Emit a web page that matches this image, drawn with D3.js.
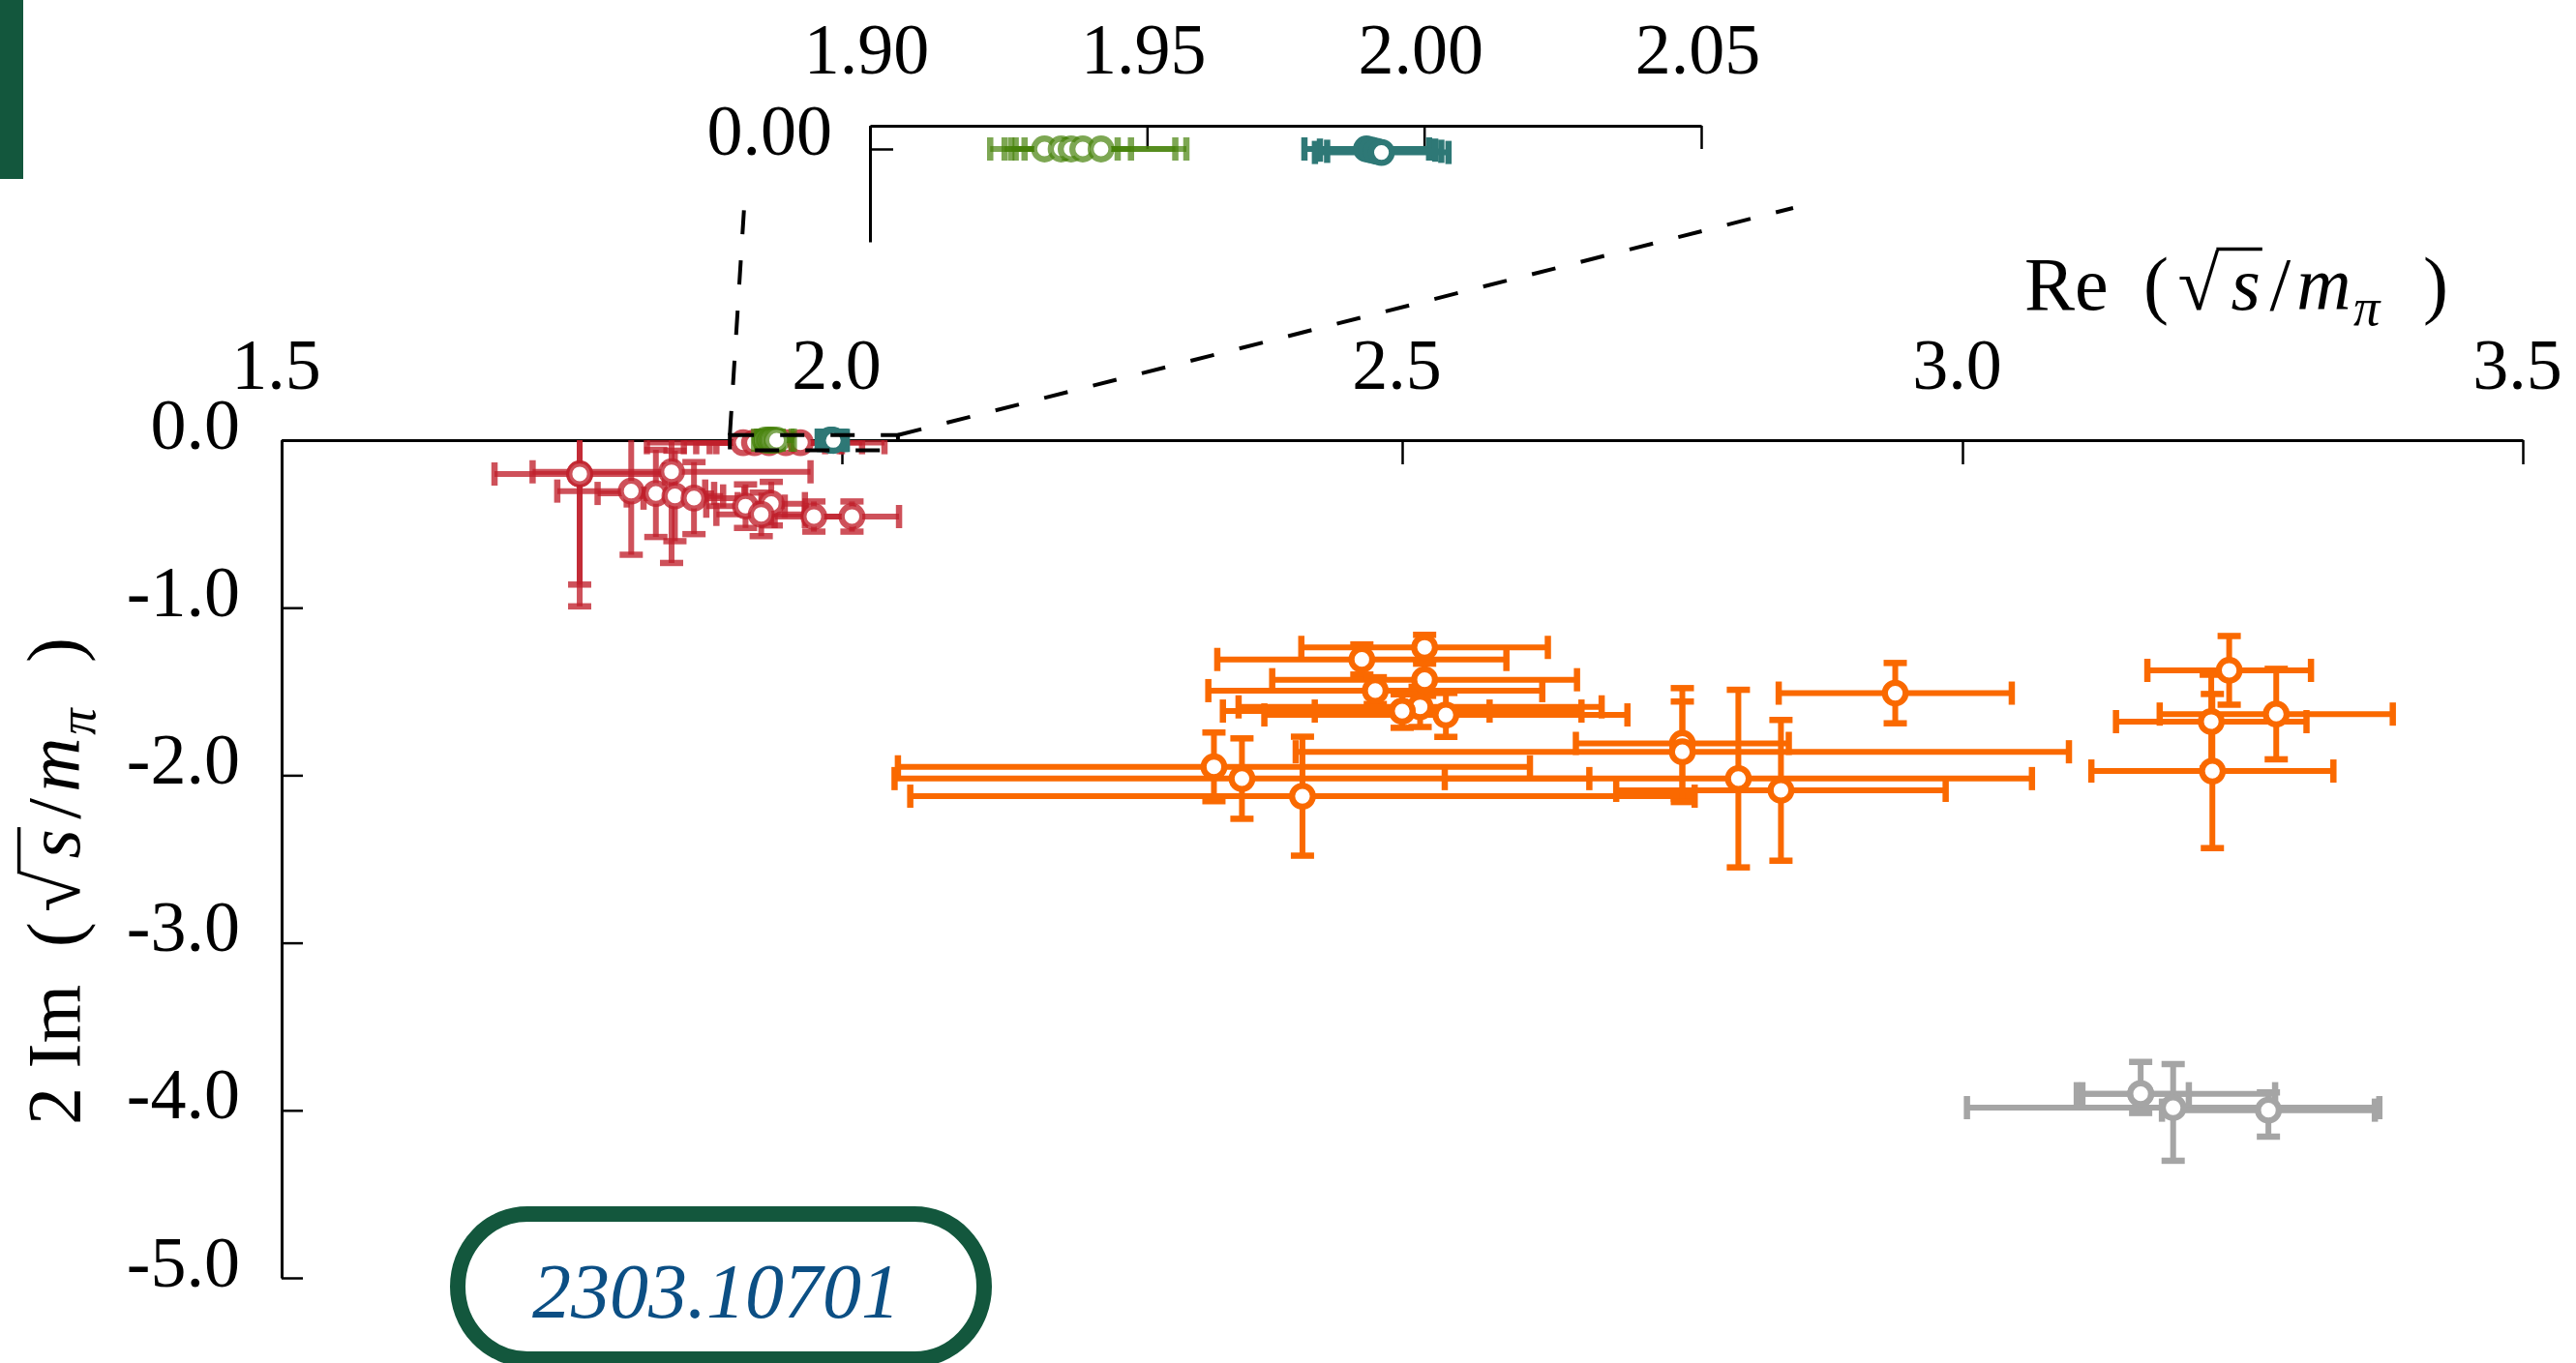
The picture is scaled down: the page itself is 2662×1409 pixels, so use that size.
<!DOCTYPE html>
<html>
<head>
<meta charset="utf-8">
<script src="https://cdn.jsdelivr.net/npm/d3@7"></script>
<style>
  html, body { margin: 0; padding: 0; background: #fff; }
  svg { display: block; font-family: "Liberation Serif", "DejaVu Serif", serif; }
</style>
</head>
<body>
<svg id="chart" width="2662" height="1409"></svg>
<script>
// tick values
const xTicks = [1.5, 2.0, 2.5, 3.0, 3.5];
const yTicks = [0, -1, -2, -3, -4, -5];
const insetXTicks = [1.90, 1.95, 2.00, 2.05];
const insetYTicks = [0];

// errors are symmetric numbers or [minus, plus] pairs
const redRe = [1.766, 1.766, 1.848, 1.812, 1.834, 1.851, 1.868, 1.914, 1.937, 1.928, 1.975, 2.009, 1.912, 1.922, 1.935, 1.950, 1.963];
const redIm = [-0.202, -0.202, -0.189, -0.304, -0.318, -0.333, -0.346, -0.394, -0.379, -0.443, -0.456, -0.456, -0.015, -0.015, -0.015, -0.015, -0.015];
const redReErr = [0.076, 0, 0.124, 0.066, 0.052, 0.043, 0.045, 0.035, 0.030, 0.040, 0.035, 0.042, 0.086, 0.063, 0.065, 0.068, 0.075];
const redImErr = [0.79, 0.66, 0.544, 0.38, 0.26, 0.27, 0.215, 0.13, 0.13, 0.13, 0.09, 0.09, 0, 0, 0, 0, 0];

const orangeRe = [2.520, 2.464, 2.520, 2.476, 2.516, 2.500, 2.500, 2.539, 2.332, 2.357, 2.411, 2.750, 2.750, 2.800, 2.838, 2.940, 3.238, 3.280, 3.222, 3.223];
const orangeIm = [-1.237, -1.309, -1.430, -1.495, -1.592, -1.617, -1.617, -1.640, -1.950, -2.020, -2.125, -1.810, -1.860, -2.020, -2.090, -1.510, -1.374, -1.635, -1.680, -1.975];
const orangeReErr = [0.110, 0.129, 0.136, 0.149, 0.162, 0.160, 0.078, 0.162, 0.282, 0.310, 0.350, 0.095, 0.345, 0.262, 0.147, 0.104, 0.073, 0.104, 0.085, 0.108];
const orangeImErr = [0.075, 0.09, 0.096, 0.08, 0.12, 0.10, 0, 0.131, 0.205, 0.24, 0.355, 0.33, 0.30, 0.53, 0.42, 0.18, 0.205, 0.27, 0.28, 0.46];

const greyRe = [3.159, 3.159, 3.188, 3.273];
const greyIm = [-3.901, -3.901, -3.984, -3.999];
const greyReErr = [[0.057, 0.12], [0.052, 0.043], 0.184, 0.095];
const greyImErr = [[0.115, 0.19], 0, [0.317, 0.26], [0.158, 0.106]];

const greenRe = [1.9315, 1.9345, 1.9363, 1.9384, 1.9417];
const greenIm = [0, 0, 0, 0, 0];
const greenReErr = [0.0036, 0.0102, 0.0108, 0.0167, 0.0154];
const greenImErr = [0, 0, 0, 0, 0];

const tealRe = [1.9896, 1.9905, 1.9914, 1.9923];
const tealIm = [0, -0.0005, -0.001, -0.0015];
const tealReErr = [[0.0112, 0.0113], [0.0093, 0.0115], [0.0089, 0.0117], [0.0120, 0.0121]];
const tealImErr = [0, 0, 0, 0];

const arxivId = "2303.10701";

const series = [
    {re: redRe, im: redIm, reErr: redReErr, imErr: redImErr, color: "rgb(192,32,44)", opacity: 0.78, clip: true},
    {re: orangeRe, im: orangeIm, reErr: orangeReErr, imErr: orangeImErr, color: "#fa6900", opacity: 1},
    {re: greyRe, im: greyIm, reErr: greyReErr, imErr: greyImErr, color: "#a5a5a5", opacity: 1},
    {re: greenRe, im: greenIm, reErr: greenReErr, imErr: greenImErr, color: "rgb(70,130,10)", opacity: 0.7, inset: true},
    {re: tealRe, im: tealIm, reErr: tealReErr, imErr: tealImErr, color: "#2e7876", opacity: 1, inset: true}
];

const darkGreen = "#13573d";
const tickFont = 74;
const labelFont = 78;

const svg = d3.select("#chart");

const xScale = d3.scaleLinear().domain([1.5, 3.5]).range([291, 2607]);
const yScale = d3.scaleLinear().domain([0, -5]).range([455, 1321]);
const insetX = d3.scaleLinear().domain([1.90, 2.05]).range([899, 1758]);
const insetY = d3.scaleLinear().domain([0.01, -0.04]).range([130, 250]);

svg.append("defs").append("clipPath")
    .attr("id", "plot-clip")
    .append("rect")
        .attr("x", xScale.range()[0])
        .attr("y", yScale.range()[0])
        .attr("width", xScale.range()[1] - xScale.range()[0])
        .attr("height", yScale.range()[1] - yScale.range()[0]);

function pair(e) {
    return Array.isArray(e) ? e : [e, e];
}

function drawSeries(parent, s, x, y, useClip) {
    const pts = s.re.map((r, i) => ({x: r, y: s.im[i], ex: pair(s.reErr[i]), ey: pair(s.imErr[i])}));
    const cap = 12;
    const g = parent.append("g");

    const bars = g.append("g")
        .attr("stroke", s.color)
        .attr("stroke-opacity", s.opacity);
    if (useClip) bars.attr("clip-path", "url(#plot-clip)");

    pts.forEach(p => {
        const cx = x(p.x), cy = y(p.y);
        if (p.ex[0] > 0 || p.ex[1] > 0) {
            const xa = x(p.x - p.ex[0]), xb = x(p.x + p.ex[1]);
            bars.append("line")
                .attr("x1", xa).attr("x2", xb)
                .attr("y1", cy).attr("y2", cy)
                .attr("stroke-width", 6);
            [xa, xb].forEach(xc => bars.append("line")
                .attr("x1", xc).attr("x2", xc)
                .attr("y1", cy - cap).attr("y2", cy + cap)
                .attr("stroke-width", 6.5));
        }
        if (p.ey[0] > 0 || p.ey[1] > 0) {
            const ya = y(p.y - p.ey[0]), yb = y(p.y + p.ey[1]);
            bars.append("line")
                .attr("x1", cx).attr("x2", cx)
                .attr("y1", ya).attr("y2", yb)
                .attr("stroke-width", 6);
            [ya, yb].forEach(yc => bars.append("line")
                .attr("x1", cx - cap).attr("x2", cx + cap)
                .attr("y1", yc).attr("y2", yc)
                .attr("stroke-width", 6.5));
        }
    });

    g.append("g").selectAll("circle")
        .data(pts)
        .enter().append("circle")
            .attr("cx", d => x(d.x))
            .attr("cy", d => y(d.y))
            .attr("r", 10.75)
            .attr("fill", "#fff")
            .attr("stroke", s.color)
            .attr("stroke-opacity", s.opacity)
            .attr("stroke-width", 6.3);
}

function styleAxis(g) {
    g.attr("font-family", null).attr("font-size", null);
    g.select(".domain").attr("stroke-width", 3);
    g.selectAll(".tick line").attr("stroke-width", 2.5);
    g.selectAll(".tick text").attr("font-size", tickFont).attr("fill", "#000");
}

// main axes
const xAxis = svg.append("g")
    .attr("transform", `translate(0, ${yScale(0)})`)
    .call(d3.axisTop(xScale)
        .tickValues(xTicks)
        .tickSizeInner(-25)
        .tickSizeOuter(0)
        .tickPadding(53)
        .tickFormat(d3.format(".1f")));
styleAxis(xAxis);
xAxis.selectAll(".tick text").attr("dx", -6);

const yAxis = svg.append("g")
    .attr("transform", `translate(${xScale(1.5)}, 0)`)
    .call(d3.axisLeft(yScale)
        .tickValues(yTicks)
        .tickSizeInner(-22)
        .tickSizeOuter(0)
        .tickPadding(43)
        .tickFormat(d => d.toFixed(1)));
styleAxis(yAxis);
yAxis.selectAll(".tick text").attr("dy", "0.11em");

// inset axes
const insetXAxis = svg.append("g")
    .attr("transform", `translate(0, ${insetY.range()[0]})`)
    .call(d3.axisTop(insetX)
        .tickValues(insetXTicks)
        .tickSizeInner(-24)
        .tickSizeOuter(0)
        .tickPadding(54)
        .tickFormat(d3.format(".2f")));
styleAxis(insetXAxis);
insetXAxis.selectAll(".tick text").attr("dx", -4);

const insetYAxis = svg.append("g")
    .attr("transform", `translate(${insetX(1.90)}, 0)`)
    .call(d3.axisLeft(insetY)
        .tickValues(insetYTicks)
        .tickSizeInner(-24)
        .tickSizeOuter(0)
        .tickPadding(39)
        .tickFormat(d3.format(".2f")));
styleAxis(insetYAxis);
insetYAxis.selectAll(".tick text").attr("dy", "0.07em");

// data
const plot = svg.append("g");
series.forEach(s => drawSeries(plot, s, xScale, yScale, s.clip));
const insetPlot = svg.append("g");
series.filter(s => s.inset).forEach(s => drawSeries(insetPlot, s, insetX, insetY, false));

// zoom box and connectors
const dash = "25,27";
const boxLeft = xScale(1.90), boxRight = xScale(2.05), boxTop = yScale(0.03);
svg.append("rect")
    .attr("x", boxLeft)
    .attr("y", boxTop)
    .attr("width", boxRight - boxLeft)
    .attr("height", yScale(-0.06) - boxTop)
    .attr("fill", "none")
    .attr("stroke", "#000")
    .attr("stroke-width", 4)
    .attr("stroke-dasharray", dash);

const connectors = [
    [boxLeft, boxTop, insetX(1.90) - 130, insetY.range()[0] + 84],
    [boxRight, boxTop, insetX(2.05) + 95, insetY.range()[0] + 85]
];
svg.append("g").selectAll("line")
    .data(connectors)
    .enter().append("line")
        .attr("x1", d => d[0]).attr("y1", d => d[1])
        .attr("x2", d => d[2]).attr("y2", d => d[3])
        .attr("stroke", "#000")
        .attr("stroke-width", 4)
        .attr("stroke-dasharray", dash);

// axis titles: extra width goes into the gaps, like the TeX spacing
function mathLabel(g, lead, length) {
    const pieces = [
        {text: lead},
        {text: "(", gap: 0.30},
        {text: "\u221A", gap: 0.08},
        {text: "s", italic: true, gap: 0.10},
        {text: "/", gap: 0.08},
        {text: "m", italic: true, gap: 0.05},
        {text: "\u03C0", italic: true, sub: true, gap: 0.02},
        {text: ")", unsub: true, gap: 0.37}
    ];
    const text = g.append("text").attr("font-size", labelFont);
    const spans = pieces.map(p => {
        const t = text.append("tspan").text(p.text);
        if (p.italic) t.attr("font-style", "italic");
        if (p.sub) t.attr("font-size", labelFont * 0.7).attr("dy", labelFont * 0.2);
        if (p.unsub) t.attr("dy", -labelFont * 0.2);
        return t;
    });
    const extra = Math.max(0, length - text.node().getComputedTextLength());
    pieces.forEach((p, k) => {
        if (p.gap) spans[k].attr("dx", p.gap * extra);
    });

    // vinculum over the s, from the top of the radical
    const node = text.node();
    const i = lead.length + 1;
    const root = node.getExtentOfChar(i);
    const s = node.getExtentOfChar(i + 1);
    g.append("line")
        .attr("x1", root.x + root.width - 3)
        .attr("x2", s.x + s.width + 2)
        .attr("y1", -labelFont * 0.8)
        .attr("y2", -labelFont * 0.8)
        .attr("stroke", "#000")
        .attr("stroke-width", 3.5);
}

mathLabel(svg.append("g").attr("transform", "translate(2092, 320)"), "Re", 438);
mathLabel(svg.append("g").attr("transform", "translate(82, 1163) rotate(-90)"), "2 Im", 504);

// decorations
svg.append("rect")
    .attr("x", 0).attr("y", 0)
    .attr("width", 24).attr("height", 185)
    .attr("fill", darkGreen);

svg.append("rect")
    .attr("x", 473).attr("y", 1255)
    .attr("width", 544).attr("height", 150)
    .attr("rx", 72).attr("ry", 75)
    .attr("fill", "#fff")
    .attr("stroke", darkGreen)
    .attr("stroke-width", 16);

svg.append("text")
    .attr("x", 740).attr("y", 1362)
    .attr("text-anchor", "middle")
    .attr("font-size", 80)
    .attr("font-style", "italic")
    .attr("fill", "#0c4f84")
    .text(arxivId);
</script>
</body>
</html>
